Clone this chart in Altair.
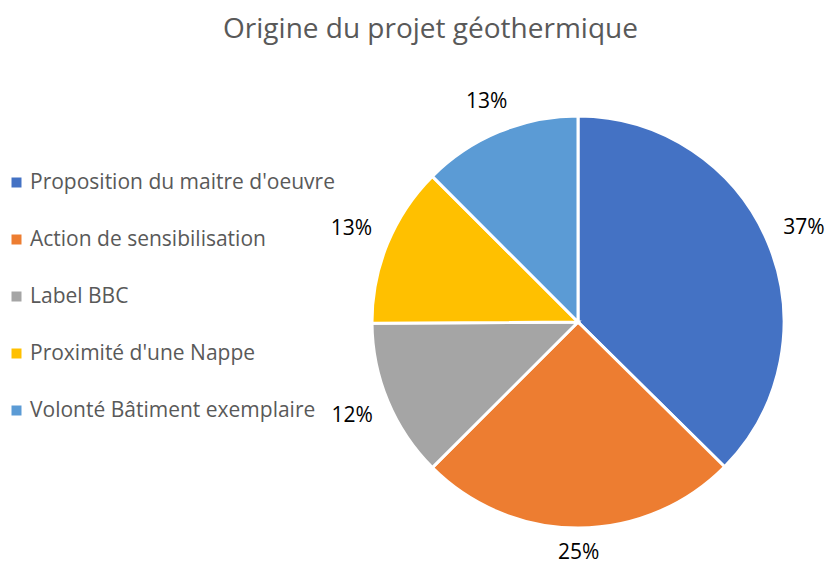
import altair as alt
import pandas as pd

categories = [
    "Proposition du maitre d'oeuvre",
    "Action de sensibilisation",
    "Label BBC",
    "Proximité d'une Nappe",
    "Volonté Bâtiment exemplaire",
]
values = [37.4, 25.1, 12.4, 12.6, 12.5]
colors = ["#4472C4", "#ED7D31", "#A5A5A5", "#FFC000", "#5B9BD5"]

df = pd.DataFrame({"cat": categories, "value": values, "idx": list(range(len(values)))})

FONT = "Open Sans"
CX, CY, R = 570, 314, 206

pie = alt.Chart(df).mark_arc(stroke="white", strokeWidth=3, radius=R).encode(
    theta=alt.Theta("value:Q", stack=True),
    order=alt.Order("idx:Q"),
    x=alt.value(CX),
    y=alt.value(CY),
    color=alt.Color(
        "cat:N",
        scale=alt.Scale(domain=categories, range=colors),
        sort=categories,
        legend=alt.Legend(
            title=None,
            orient="none",
            legendX=-2,
            legendY=164,
            padding=0,
            symbolType="square",
            symbolSize=100,
            symbolStrokeWidth=0,
            labelFont=FONT,
            labelFontSize=21,
            labelColor="#595959",
            labelOffset=3,
            labelLimit=400,
            rowPadding=35,
        ),
    ),
)

# best-fit style label placement: label box just outside the slice edge
labels = (
    alt.Chart(df)
    .transform_joinaggregate(total="sum(value)")
    .transform_window(cum="sum(value)", sort=[alt.SortField("idx")], frame=[None, 0])
    .transform_calculate(
        ang="(datum.cum - datum.value / 2) / datum.total * 2 * PI",
        rad=f"{R} + 16 + abs(sin(datum.ang)) * 21 + abs(cos(datum.ang)) * 9",
        lab="format(datum.value, '.0f') + '%'",
    )
    .mark_text(font=FONT, fontSize=21, color="#000000", align="center", baseline="middle")
    .encode(
        x=alt.value(CX),
        y=alt.value(CY),
        theta=alt.Theta("ang:Q", scale=None),
        radius=alt.Radius("rad:Q", scale=None),
        text="lab:N",
    )
)

chart = (
    alt.layer(pie, labels)
    .properties(
        width=817,
        height=557,
        autosize=alt.AutoSizeParams(type="none"),
        padding=0,
        title=alt.TitleParams(
            "Origine du projet géothermique",
            font=FONT,
            fontSize=28,
            fontWeight="normal",
            color="#595959",
            anchor="middle",
            dx=14,
            dy=40,
        ),
    )
    .configure_view(stroke=None)
)

chart.save("out.html", embed_options={"renderer": "svg", "actions": False})
